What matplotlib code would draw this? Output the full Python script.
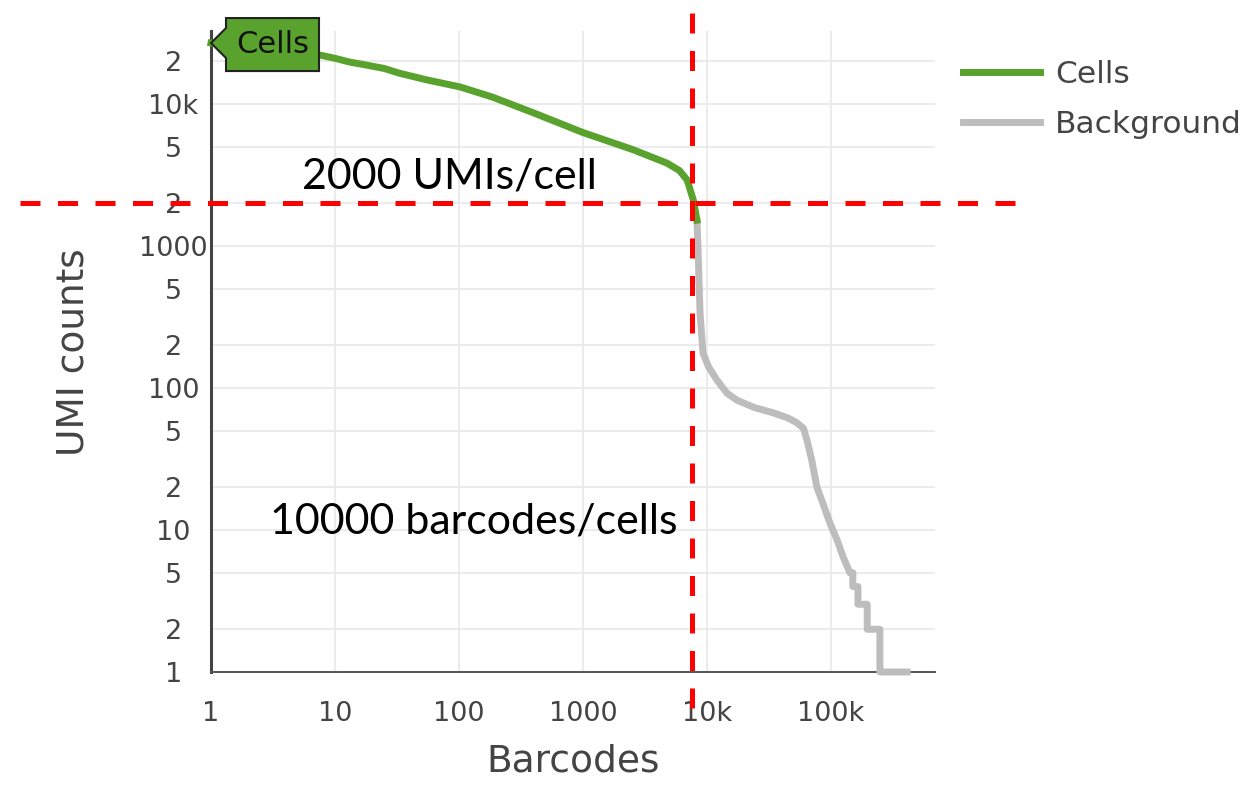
import numpy as np
import matplotlib.pyplot as plt
import matplotlib.transforms as mtransforms
from matplotlib.patches import Polygon
from matplotlib.ticker import FixedLocator, FixedFormatter, NullLocator

# barcode rank vs UMI count, cells part
cells_x = [1, 2, 4, 7.6, 10, 13, 18, 25, 33, 55, 102, 186, 395, 1000,
           2520, 4750, 6000, 6920, 7770, 8300]
cells_y = [26900, 24500, 23000, 22100, 21000, 19800, 18800, 17800, 16500,
           14800, 13200, 11200, 8700, 6300, 4780, 3840, 3400, 2920, 2100, 1520]

# background barcodes
bg_x = [8300, 8460, 8790, 9290, 10300, 12000, 14500, 17500, 24000, 34000,
        45000, 53000, 60000, 64000, 70000, 77000, 87000, 98000, 112000,
        125000, 142000, 150000, 150000, 165000, 165000, 196000, 196000,
        248000, 248000, 410000]
bg_y = [1520, 985, 337, 176, 141, 114, 92, 82, 73, 67, 61.5, 57, 52, 43, 31,
        20, 15, 11.2, 8.5, 6.5, 5, 5, 4, 4, 3, 3, 2, 2, 1, 1]

x_ticks = [1, 10, 100, 1000, 10000, 100000]
x_labels = ['1', '10', '100', '1000', '10k', '100k']
y_ticks = [1, 2, 5, 10, 20, 50, 100, 200, 500, 1000, 2000, 5000, 10000, 20000]
y_labels = ['1', '2', '5', '10', '2', '5', '100', '2', '5', '1000', '2', '5',
            '10k', '2']

umi_cutoff = 2000
cell_cutoff = 7600
top_cell = (1, 26900)

green = '#58a22d'
grey = '#bdbdbd'
txt = '#444444'

fig = plt.figure(figsize=(12.55, 7.85), dpi=100)
ax = fig.add_axes([211 / 1255, 113 / 785, 724 / 1255, 641 / 785])

ax.set_xscale('log')
ax.set_yscale('log')
ax.set_xlim(1, 6.9e5)
ax.set_ylim(1, 32700)

ax.plot(bg_x, bg_y, color=grey, lw=5, solid_joinstyle='round', zorder=3,
        label='Background', clip_on=False)
ax.plot(cells_x, cells_y, color=green, lw=5, solid_joinstyle='round',
        zorder=4, label='Cells', clip_on=False)

ax.xaxis.set_major_locator(FixedLocator(x_ticks))
ax.xaxis.set_major_formatter(FixedFormatter(x_labels))
ax.yaxis.set_major_locator(FixedLocator(y_ticks))
ax.yaxis.set_major_formatter(FixedFormatter(y_labels))
ax.xaxis.set_minor_locator(NullLocator())
ax.yaxis.set_minor_locator(NullLocator())
ax.tick_params(axis='x', length=0, pad=21, labelsize=19.5, labelcolor=txt)
ax.tick_params(axis='y', length=0, pad=27, labelsize=19.5, labelcolor=txt)
for lab in ax.get_yticklabels():
    lab.set_horizontalalignment('center')

ax.grid(True, color='#ebebeb', lw=1.5, zorder=0)
for side in ['top', 'right']:
    ax.spines[side].set_visible(False)
ax.spines['left'].set_color('#444444')
ax.spines['left'].set_linewidth(2.2)
ax.spines['bottom'].set_color('#555555')
ax.spines['bottom'].set_linewidth(1.4)

fig.text(74 / 1255, 1 - 352 / 785, 'UMI counts', rotation=90, fontsize=27,
         color=txt, ha='center', va='center')
fig.text(573 / 1255, 1 - 762 / 785, 'Barcodes', fontsize=27, color=txt,
         ha='center', va='center')

# hover tag pointing at the top barcode
tag_tr = mtransforms.Affine2D() + mtransforms.ScaledTranslation(
    top_cell[0], top_cell[1], ax.transData)
tag = Polygon([(0, 0), (15, 15), (15, 25), (108, 25), (108, -28), (15, -28),
               (15, -15)], closed=True, transform=tag_tr, facecolor=green,
              edgecolor='#222222', lw=1.5, zorder=6, clip_on=False)
fig.add_artist(tag)
fig.text(61.5, -1, 'Cells', transform=tag_tr, fontsize=22, color='#111111',
         ha='center', va='center', zorder=7)

# cutoff lines
hline_tr = mtransforms.blended_transform_factory(fig.transFigure, ax.transData)
ax.plot([20 / 1255, 1030 / 1255], [umi_cutoff, umi_cutoff], transform=hline_tr,
        color='red', lw=3.6, dashes=(4, 3.5), clip_on=False, zorder=8)
vline_tr = mtransforms.blended_transform_factory(ax.transData, fig.transFigure)
ax.plot([cell_cutoff, cell_cutoff], [1 - 708 / 785, 1.0], transform=vline_tr,
        color='red', lw=3.6, dashes=(4, 3.5), clip_on=False, zorder=8)

ax.text(5.42, 2560, '2000 UMIs/cell', fontsize=31, family='Lato',
        color='black', ha='left', va='baseline', zorder=9)
ax.text(2.99, 9.5, '10000 barcodes/cells', fontsize=31, family='Lato',
        color='black', ha='left', va='baseline', zorder=9)

leg = ax.legend(handles=ax.get_lines()[1::-1], loc='upper left',
                bbox_to_anchor=(963 / 1255, 1 - 60 / 785),
                bbox_transform=fig.transFigure, frameon=False, fontsize=22.5,
                handlelength=2.45, handletextpad=0.5, labelspacing=0.68,
                borderpad=0, borderaxespad=0)
for t in leg.get_texts():
    t.set_color(txt)

fig.savefig('out.png', dpi=100)
